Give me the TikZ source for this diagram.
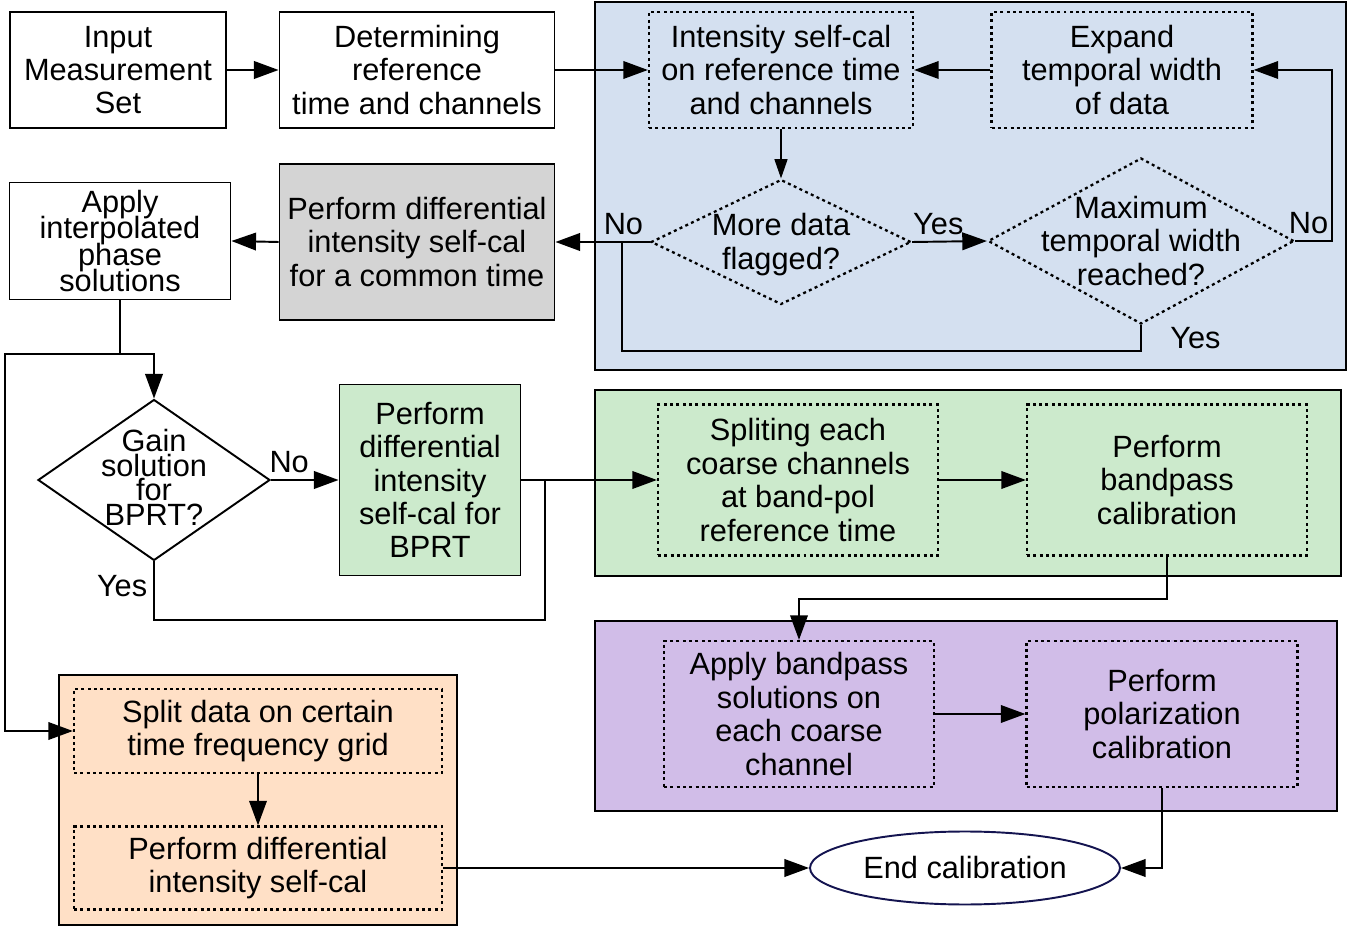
\documentclass[tikz,border=0pt]{standalone}
\usepackage{fontspec}
\setmainfont{Liberation Sans}
\usetikzlibrary{arrows.meta,shapes.geometric}

\definecolor{grpblue}{RGB}{212,224,240}
\definecolor{grpgreen}{RGB}{204,234,204}
\definecolor{grppurple}{RGB}{209,189,232}
\definecolor{grporange}{RGB}{255,224,198}
\definecolor{boxgray}{RGB}{212,212,212}
\definecolor{navy}{RGB}{20,20,80}

\newcommand{\tightfont}[1]{\fontsize{17.5}{#1}\selectfont\lineskiplimit-20pt\relax}

\tikzset{
    every node/.style={font=\fontsize{17.5}{19}\selectfont},
    box/.style={draw, line width=1.1pt, inner sep=0pt, align=center},
    dotbox/.style={draw, line width=1.3pt, dash pattern=on 1.7pt off 1.9pt, inner sep=0pt, align=center},
    decision/.style={draw, shape=diamond, line width=1.1pt, inner sep=0pt},
    tight/.style={font=\tightfont{15pt}, align=center},
    line/.style={line width=1.1pt},
    arr/.style={line width=1.1pt, -{Triangle[length=14pt,width=10pt]}},
    thinarr/.style={line width=0.6pt, -{Triangle[length=11pt,width=7.5pt]}},
}

\begin{document}
\begin{tikzpicture}[x=0.02cm, y=-0.02cm]
    \useasboundingbox (0,0) rectangle (1359,928);

    % groups
    \draw[line, fill=grpblue] (595,2) rectangle (1346,370);
    \draw[line, fill=grpgreen] (595,390) rectangle (1341,576);
    \draw[line, fill=grppurple] (595,621) rectangle (1337,811);
    \draw[line, fill=grporange] (59,675) rectangle (457,925);

    % top row
    \node[box, minimum width=4.32cm, minimum height=2.32cm] (input) at (118,70) {Input\\Measurement\\Set};
    \node[box, minimum width=5.5cm, minimum height=2.32cm] (refer) at (417,70) {Determining\\reference\\time and channels};
    \node[dotbox, minimum width=5.28cm, minimum height=2.32cm] (intens) at (781,70) {Intensity self-cal\\on reference time\\and channels};
    \node[dotbox, minimum width=5.22cm, minimum height=2.32cm] (expand) at (1122,70) {Expand\\temporal width\\of data};

    % decisions
    \node[decision, dash pattern=on 1.7pt off 1.9pt, line width=1.3pt, minimum width=5.2cm, minimum height=2.5cm,
        label={[align=center, yshift=-0.05cm]center:More data\\flagged?}] (more) at (781,242) {};
    \node[decision, dash pattern=on 1.7pt off 1.9pt, line width=1.3pt, minimum width=6.12cm, minimum height=3.32cm,
        label={[align=center]center:Maximum\\temporal width\\reached?}] (maxw) at (1141,241) {};

    \node[box, fill=boxgray, minimum width=5.5cm, minimum height=3.12cm] (common) at (417,242) {Perform differential\\intensity self-cal\\for a common time};
    \node[box, tight, minimum width=4.42cm, minimum height=2.34cm] (apply) at (120,241) {Apply\\interpolated\\phase\\solutions};

    % middle row
    \node[decision, minimum width=4.64cm, minimum height=3.22cm,
        label={[tight, font=\tightfont{14pt}, yshift=0.05cm]center:Gain\\solution\\for\\BPRT?}] (gain) at (154,480) {};
    \node[box, fill=grpgreen, minimum width=3.62cm, minimum height=3.82cm] (bprt) at (430,480) {Perform\\differential\\intensity\\self-cal for\\BPRT};
    \node[dotbox, minimum width=5.6cm, minimum height=3.02cm] (splitc) at (798,480) {Spliting each\\coarse channels\\at band-pol\\reference time};
    \node[dotbox, minimum width=5.6cm, minimum height=3.02cm] (bandp) at (1167,480) {Perform\\bandpass\\calibration};

    % lower row
    \node[dotbox, minimum width=5.4cm, minimum height=2.92cm] (applyb) at (799,714) {Apply bandpass\\solutions on\\each coarse\\channel};
    \node[dotbox, minimum width=5.42cm, minimum height=2.92cm] (polar) at (1162,714) {Perform\\polarization\\calibration};
    \node[dotbox, minimum width=7.36cm, minimum height=1.68cm] (split) at (258,731) {Split data on certain\\time frequency grid};
    \node[dotbox, minimum width=7.36cm, minimum height=1.66cm] (pdiff) at (258,868) {Perform differential\\intensity self-cal};
    \node[draw=navy, ellipse, line width=1.1pt, inner sep=0pt, minimum width=6.2cm, minimum height=1.46cm] (endc) at (965,868) {End calibration};

    \coordinate (jno) at (622,241);
    \coordinate (jtop) at (120,354);
    \coordinate (jleft) at (5,354);
    \coordinate (jbp) at (545,480);

    % connectors
    \draw[arr] (input) -- (refer);
    \draw[arr] (refer) -- (intens);
    \draw[arr] (expand) -- (intens);
    \draw[thinarr] (intens) -- (more);
    \draw[arr] (more.east) -- node[above, pos=0.35] {Yes} (maxw.west);
    \draw[arr] (maxw.east) -- node[above, xshift=-0.1cm] {No} ++(37,0) |- (expand.east);
    \draw[line] (maxw.south) -- node[anchor=west, xshift=0.45cm] {Yes} ++(0,26) -| (jno);
    \draw[arr] (more.west) -- node[above, pos=0.28] {No} (common.east);
    \draw[arr] (common.west) -- (apply.east);
    \draw[line] (apply.south) -- (jtop);
    \draw[arr] (jtop) -| (gain.north);
    \draw[arr] (jtop) -- (jleft) |- (split.west);
    \draw[arr] (gain.east) -- node[above, pos=0.27] {No} (bprt.west);
    \draw[line] (gain.south) -- node[anchor=east, pos=0.42] {Yes} ++(0,59) -| (jbp);
    \draw[arr] (bprt.east) -- (splitc.west);
    \draw[arr] (splitc.east) -- (bandp.west);
    \draw[arr] (bandp.south) -- ++(0,42) -| (applyb.north);
    \draw[arr] (applyb.east) -- (polar.west);
    \draw[arr] (polar.south) |- (endc.east);
    \draw[arr] (split.south) -- (pdiff.north);
    \draw[arr] (pdiff.east) -- (endc.west);
\end{tikzpicture}
\end{document}
